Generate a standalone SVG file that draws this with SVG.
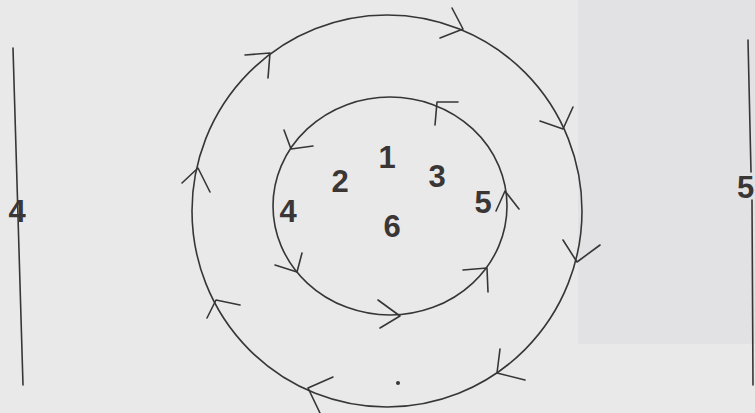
<svg xmlns="http://www.w3.org/2000/svg" width="755" height="413" viewBox="0 0 755 413">
  <style>
    .ln { fill: none; stroke: #363636; stroke-width: 1.6; stroke-linecap: round; stroke-linejoin: round; }
    .lbl { font-family: "Liberation Sans", Arial, sans-serif; font-weight: bold; font-size: 31px; fill: #3a3636; }
  </style>
  <rect x="0" y="0" width="755" height="413" fill="#eae9e9"/>
  <rect x="578" y="0" width="177" height="344" fill="#e2e2e4"/>

  <g id="connectors">
    <g id="outer-cycle">
      <ellipse class="ln" cx="387" cy="211" rx="195" ry="196"/>
      <polyline class="ln" points="245,55 270,53 268,78"/>
      <polyline class="ln" points="452,8 463,29 440,38"/>
      <polyline class="ln" points="540,121 563,129 573,107"/>
      <polyline class="ln" points="563,240 577,262 600,245"/>
      <polyline class="ln" points="500,349 497,373 525,380"/>
      <polyline class="ln" points="333,377 308,388 320,413"/>
      <polyline class="ln" points="240,305 216,300 207,318"/>
      <polyline class="ln" points="182,183 198,168 210,192"/>
    </g>
    <g id="inner-cycle">
      <ellipse class="ln" cx="390" cy="206" rx="117" ry="109"/>
      <polyline class="ln" points="284,130 291,149 313,146"/>
      <polyline class="ln" points="458,102 437,102 435,125"/>
      <polyline class="ln" points="496,211 505,191 519,209"/>
      <polyline class="ln" points="463,270 487,268 488,292"/>
      <polyline class="ln" points="378,300 400,316 380,328"/>
      <polyline class="ln" points="275,265 297,272 302,253"/>
    </g>
    <g id="side-lines">
      <line class="ln" x1="13" y1="48" x2="23" y2="385"/>
      <line class="ln" x1="748" y1="40" x2="751" y2="172"/>
      <line class="ln" x1="752" y1="200" x2="753" y2="385"/>
    </g>
    <circle cx="398" cy="383" r="2" fill="#363636"/>
  </g>

  <g id="node-1"><text class="lbl" x="387" y="168" text-anchor="middle">1</text></g>
  <g id="node-2"><text class="lbl" x="340" y="192" text-anchor="middle">2</text></g>
  <g id="node-3"><text class="lbl" x="437" y="187" text-anchor="middle">3</text></g>
  <g id="node-4"><text class="lbl" x="288" y="222" text-anchor="middle">4</text></g>
  <g id="node-5"><text class="lbl" x="483" y="213" text-anchor="middle">5</text></g>
  <g id="node-6"><text class="lbl" x="392" y="237" text-anchor="middle">6</text></g>
  <g id="side-4"><text class="lbl" x="17" y="222" text-anchor="middle">4</text></g>
  <g id="side-5"><text class="lbl" x="737" y="198">5</text></g>
</svg>
